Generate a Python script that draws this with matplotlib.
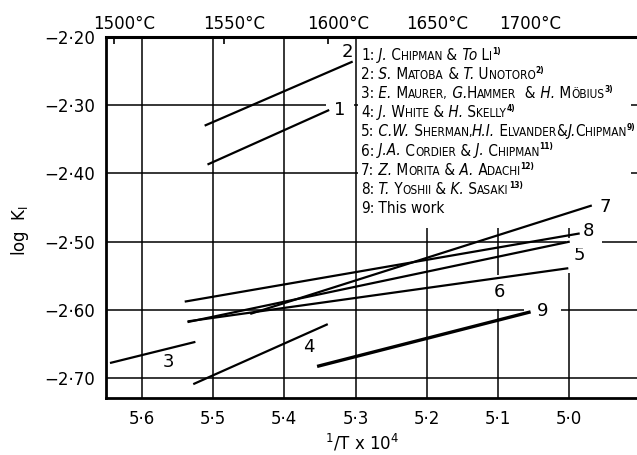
import matplotlib
matplotlib.use("Agg")
import matplotlib.pyplot as plt
from matplotlib import transforms
from matplotlib.patches import Rectangle

# line end points: x = 1/T x 10^4, y = log K1
line_ids = ["1", "2", "3", "4", "5", "6", "7", "8", "9"]
x_start = [5.508, 5.512, 5.645, 5.528, 5.536, 5.536, 5.448, 5.540, 5.354]
y_start = [-2.387, -2.330, -2.678, -2.709, -2.618, -2.617, -2.606, -2.588, -2.683]
x_end = [5.337, 5.304, 5.525, 5.339, 4.999, 5.001, 4.968, 4.985, 5.054]
y_end = [-2.307, -2.236, -2.647, -2.621, -2.500, -2.539, -2.447, -2.488, -2.603]

# where the number of each line is written
lab_x = [5.322, 5.312, 5.563, 5.365, 4.985, 5.098, 4.949, 4.973, 5.037]
lab_y = [-2.307, -2.222, -2.676, -2.655, -2.520, -2.574, -2.449, -2.484, -2.602]
lab_pad = [6, 1.5, 1.5, 1.5, 6, 6, 1.5, 6, 9]

x_ticks = [5.6, 5.5, 5.4, 5.3, 5.2, 5.1, 5.0]
x_labels = ["5·6", "5·5", "5·4", "5·3", "5·2", "5·1", "5·0"]
y_ticks = [-2.20, -2.30, -2.40, -2.50, -2.60, -2.70]
y_labels = ["−2·20", "−2·30", "−2·40", "−2·50", "−2·60", "−2·70"]
temps_c = [1500, 1550, 1600, 1650, 1700]

# legend entries: (text, kind) n=normal, i=italic, s=small caps, r=reference
legend = [
    [("1:", "n"), (" J.", "i"), (" C", "n"), ("HIPMAN", "s"), (" &", "n"), (" To", "i"), (" L", "n"), ("I", "s"), ("1)", "r")],
    [("2:", "n"), (" S.", "i"), (" M", "n"), ("ATOBA", "s"), (" &", "n"), (" T.", "i"), (" U", "n"), ("NOTORO", "s"), ("2)", "r")],
    [("3:", "n"), (" E.", "i"), (" M", "n"), ("AURER,", "s"), (" G.", "i"), ("H", "n"), ("AMMER", "s"), ("  &", "n"), (" H.", "i"), (" M", "n"), ("ÖBIUS", "s"), ("3)", "r")],
    [("4:", "n"), (" J.", "i"), (" W", "n"), ("HITE", "s"), (" &", "n"), (" H.", "i"), (" S", "n"), ("KELLY", "s"), ("4)", "r")],
    [("5:", "n"), (" C.W.", "i"), (" S", "n"), ("HERMAN,", "s"), ("H.I.", "i"), (" E", "n"), ("LVANDER", "s"), ("&", "n"), ("J.", "i"), ("C", "n"), ("HIPMAN", "s"), ("9)", "r")],
    [("6:", "n"), (" J.A.", "i"), (" C", "n"), ("ORDIER", "s"), (" &", "n"), (" J.", "i"), (" C", "n"), ("HIPMAN", "s"), ("11)", "r")],
    [("7:", "n"), (" Z.", "i"), (" M", "n"), ("ORITA", "s"), (" &", "n"), (" A.", "i"), (" A", "n"), ("DACHI", "s"), ("12)", "r")],
    [("8:", "n"), (" T.", "i"), (" Y", "n"), ("OSHII", "s"), (" &", "n"), (" K.", "i"), (" S", "n"), ("ASAKI", "s"), ("13)", "r")],
    [("9:", "n"), (" This work", "n")],
]

FULL = 11
SMALL = 8.5
FONT = "DejaVu Sans"

fig = plt.figure(figsize=(6.37, 4.55), dpi=100)
ax = fig.add_axes([106 / 637, 1 - 398 / 455, 1 - 106 / 637, (398 - 37) / 455])
ax.set_xlim(5.6506, 4.9045)
ax.set_ylim(-2.7293, -2.20)

ax.set_axisbelow(True)
ax.grid(True, color="black", linewidth=1.1)
ax.set_xticks(x_ticks, x_labels)
ax.set_yticks(y_ticks, y_labels)
ax.tick_params(axis="both", length=0, labelsize=12)
ax.tick_params(axis="x", pad=9)
ax.tick_params(axis="y", pad=8)
ax.spines["right"].set_visible(False)
ax.spines["left"].set_linewidth(2.0)
ax.spines["bottom"].set_linewidth(2.0)
ax.spines["top"].set_linewidth(2.2)

# temperature scale on top
top = ax.secondary_xaxis("top")
top.set_xticks([1e4 / (t + 273.15) for t in temps_c], ["%d°C" % t for t in temps_c])
top.tick_params(direction="in", length=5, width=1.2, labelsize=12, pad=3)
top.spines["top"].set_visible(False)
shift = transforms.ScaledTranslation(10 / 100, 0, fig.dpi_scale_trans)
for lbl in top.get_xticklabels():
    lbl.set_transform(lbl.get_transform() + shift)

# white area behind the list of authors (x axis runs backwards)
ax.add_patch(Rectangle((4.913, -2.48), 5.297 - 4.913, 0.30, facecolor="white",
                       edgecolor="none", zorder=1))

for i, k in enumerate(line_ids):
    lw = 2.4 if k == "9" else 1.6
    ax.plot([x_start[i], x_end[i]], [y_start[i], y_end[i]], color="black",
            linewidth=lw, solid_capstyle="butt", zorder=3)
    # labels break the grid lines around them, but not the data lines
    ax.text(lab_x[i], lab_y[i], k, fontsize=13, ha="center", va="center", zorder=2.5,
            bbox=dict(facecolor="white", edgecolor="none", pad=lab_pad[i]))

# author list, small caps put together piece by piece
renderer = fig.canvas.get_renderer()
for row, entry in enumerate(legend):
    base = (398 - (60 + 19.1 * row)) / 361
    dx = 0.0
    for s, kind in entry:
        kw = dict(family=FONT, stretch="condensed", size=FULL)
        dy = 0
        if kind == "s":
            kw["size"] = SMALL
        elif kind == "i":
            kw["style"] = "italic"
        elif kind == "r":
            kw["size"] = 6
            kw["weight"] = "bold"
            dy = 6
        tr = transforms.offset_copy(ax.transAxes, fig=fig, x=dx, y=dy, units="dots")
        t = ax.text((361 - 106) / 531, base, s, transform=tr, ha="left", va="baseline",
                    zorder=5, **kw)
        dx += t.get_window_extent(renderer).width + (1 if kind == "r" else 0)

fig.text(20 / 637, 1 - 230 / 455, "log  K$_\\mathregular{I}$", rotation=90,
         ha="center", va="center", fontsize=12)
fig.text(362 / 637, 0.003, "$^\\mathregular{1}$/T x 10$^\\mathregular{4}$",
         ha="center", va="bottom", fontsize=12)

fig.savefig("out.png", dpi=100)
